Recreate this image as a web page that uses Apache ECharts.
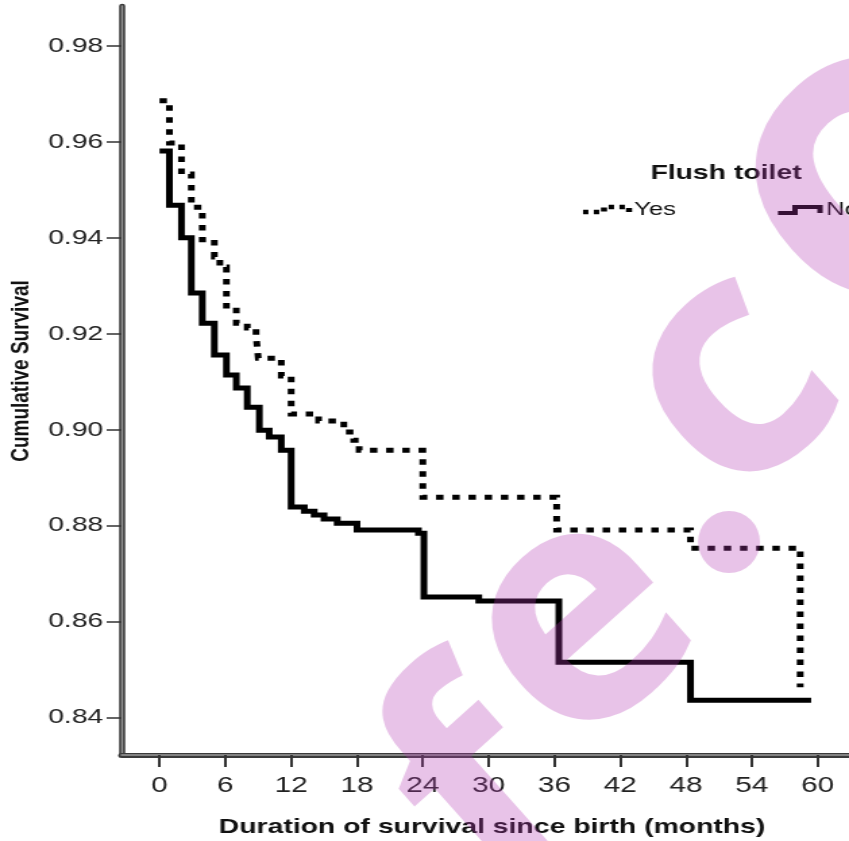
<!DOCTYPE html>
<html><head><meta charset="utf-8">
<script src="https://cdn.jsdelivr.net/npm/echarts@6/dist/echarts.min.js"></script>
<style>
html,body{margin:0;padding:0;background:#fff;overflow:hidden}
#wrap{width:849px;height:841px;overflow:hidden;position:relative;background:#fff}
#c{width:629px;height:841px;transform:scaleX(1.349762);transform-origin:0 0}
</style></head><body><div id="wrap"><div id="c"></div></div>
<script>
// ---- data ----
const xTicks = [0, 6, 12, 18, 24, 30, 36, 42, 48, 54, 60];
const yTicks = [0.84, 0.86, 0.88, 0.90, 0.92, 0.94, 0.96, 0.98];
const legendTitle = 'Flush toilet';
const seriesNames = ['Yes', 'No'];
const yesTimes = [0, 0.9, 2.0, 2.9, 3.9, 5.0, 5.5, 6.1, 7.0, 8.0, 8.8, 9.0, 11.1, 12.0, 14.5, 16.8, 17.7, 18.2, 24.0, 36.2, 48.4, 58.4];
const yesSurv  = [0.9686, 0.9598, 0.9533, 0.9464, 0.9396, 0.9360, 0.9339, 0.9249, 0.9222, 0.9212, 0.9196, 0.9149, 0.9112, 0.9033, 0.9018, 0.8995, 0.8978, 0.8957, 0.8859, 0.8791, 0.8753, 0.8463];
const noTimes  = [0, 0.9, 2.0, 2.9, 3.9, 5.0, 6.1, 7.0, 8.0, 9.1, 10.0, 11.1, 12.0, 13.2, 14.1, 15.0, 16.2, 18.0, 23.6, 24.1, 29.1, 36.4, 48.4, 59.4];
const noSurv   = [0.9581, 0.9468, 0.9400, 0.9285, 0.9222, 0.9156, 0.9114, 0.9087, 0.9047, 0.8999, 0.8985, 0.8957, 0.8839, 0.8830, 0.8822, 0.8814, 0.8805, 0.8791, 0.8784, 0.8651, 0.8643, 0.8515, 0.8436, 0.8436];

const S = 849 / 629; // horizontal stretch of the reference picture
const X = v => v / S;
const pink = 'rgba(178,55,178,0.3)';
const yesData = yesTimes.map((t, i) => [t, yesSurv[i]]);
const noData = noTimes.map((t, i) => [t, noSurv[i]]);

const chart = echarts.init(document.getElementById('c'), null, {renderer: 'canvas'});
const font = 'Liberation Sans, Arial, sans-serif';
const wmFont = 'Noto Sans';
const xMin = -3.464, xMax = 62.85, yMin = 0.83218, yMax = 0.98834;

const innerLine = (w) => ({show: true, onZero: false, lineStyle: {color: '#9a9a9a', width: w}});
const hidden = {axisTick: {show: false}, axisLabel: {show: false}, splitLine: {show: false}};

chart.setOption({
  animation: false,
  backgroundColor: '#fff',
  grid: {left: X(121.5), right: 0, top: 6, bottom: 86, outerBoundsMode: 'none', containLabel: false},
  xAxis: [{
    type: 'value', min: xMin, max: xMax,
    splitLine: {show: false},
    axisLine: {show: true, onZero: false, lineStyle: {color: '#3a3a3a', width: 5}},
    axisTick: {show: true, customValues: xTicks, length: 12, lineStyle: {color: '#333', width: 2}},
    axisLabel: {customValues: xTicks, fontSize: 22, fontFamily: font, color: '#222', margin: 20}
  }, Object.assign({type: 'value', min: xMin, max: xMax, position: 'bottom', axisLine: innerLine(1.5)}, hidden)],
  yAxis: [{
    type: 'value', min: yMin, max: yMax,
    splitLine: {show: false},
    axisLine: {show: true, onZero: false, lineStyle: {color: '#3a3a3a', width: 4.5}},
    axisTick: {show: true, customValues: yTicks, length: 11, lineStyle: {color: '#333', width: 1.5}},
    axisLabel: {customValues: yTicks, fontSize: 21, fontFamily: font, color: '#222', margin: 13.5,
      formatter: v => v.toFixed(2)}
  }, Object.assign({type: 'value', min: yMin, max: yMax, position: 'left', axisLine: innerLine(1.3)}, hidden)],
  series: [
    {name: seriesNames[0], type: 'line', step: 'end', data: yesData, symbol: 'none', silent: true,
     lineStyle: {color: '#000', width: 5, type: [5.5, 6.5], cap: 'butt', join: 'miter'}},
    {name: seriesNames[1], type: 'line', step: 'end', data: noData, symbol: 'none', silent: true,
     lineStyle: {color: '#000', width: 5, cap: 'butt', join: 'miter'}}
  ],
  graphic: [
    {type: 'text', x: X(492), y: 827, style: {text: 'Duration of survival since birth (months)', fontSize: 21, fontWeight: 'bold', fontFamily: font, fill: '#111', align: 'center', verticalAlign: 'middle'}},
    {type: 'text', x: X(21), y: 371, rotation: Math.PI / 2, style: {text: 'Cumulative Survival', fontSize: 19, fontWeight: 'bold', fontFamily: font, fill: '#111', align: 'center', verticalAlign: 'middle'}},
    {type: 'text', x: X(726), y: 173, style: {text: legendTitle, fontSize: 21, fontWeight: 'bold', fontFamily: font, fill: '#111', align: 'center', verticalAlign: 'middle'}},
    {type: 'polyline', shape: {points: [[X(583), 212], [X(604), 212], [X(604), 207], [X(629), 207], [X(629), 213]]}, style: {stroke: '#000', lineWidth: 4.5, lineDash: [4, 4], fill: null}},
    {type: 'text', x: X(634), y: 210, style: {text: seriesNames[0], fontSize: 19, fontFamily: font, fill: '#111', align: 'left', verticalAlign: 'middle'}},
    {type: 'polyline', shape: {points: [[X(778), 213], [X(795), 213], [X(795), 207], [X(820), 207], [X(820), 213]]}, style: {stroke: '#000', lineWidth: 4, fill: null}},
    {type: 'text', x: X(826), y: 210, style: {text: seriesNames[1], fontSize: 19, fontFamily: font, fill: '#111', align: 'left', verticalAlign: 'middle'}},
    {type: 'group', x: 0, y: 0, scaleX: 1 / S, z: 100, silent: true, children: [
      {type: 'text', x: 490, y: 805, rotation: 0.73, z: 100, style: {text: 'f', fontSize: 330, fontWeight: 'bold', fontFamily: wmFont, fill: pink, align: 'center', verticalAlign: 'middle'}},
      {type: 'text', x: 580, y: 626, rotation: 0.73, z: 100, style: {text: 'e', fontSize: 330, fontWeight: 'bold', fontFamily: wmFont, fill: pink, align: 'center', verticalAlign: 'middle'}},
      {type: 'circle', shape: {cx: 729, cy: 542, r: 31}, z: 100, style: {fill: pink}},
      {type: 'text', x: 730, y: 385, rotation: 0.73, z: 100, style: {text: 'c', fontSize: 330, fontWeight: 'bold', fontFamily: wmFont, fill: pink, align: 'center', verticalAlign: 'middle'}},
      {type: 'text', x: 872, y: 172, rotation: 0.73, z: 100, style: {text: 'o', fontSize: 420, fontWeight: 'bold', fontFamily: wmFont, fill: pink, align: 'center', verticalAlign: 'middle'}}
    ]}
  ]
});
</script></body></html>
